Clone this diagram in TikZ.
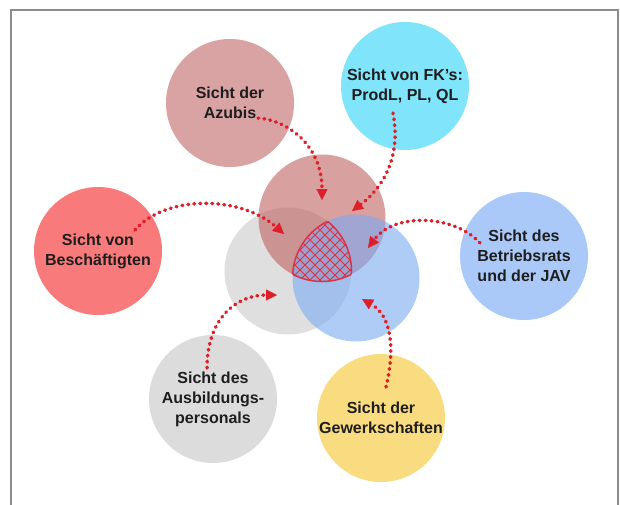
\documentclass[tikz,border=0pt]{standalone}
\usepackage{fontspec}
\setmainfont{Liberation Sans}
\usetikzlibrary{arrows.meta}
\definecolor{cAzubi}{RGB}{218,163,163}
\definecolor{cFK}{RGB}{128,228,250}
\definecolor{cBesch}{RGB}{248,122,122}
\definecolor{cBR}{RGB}{170,200,248}
\definecolor{cAusb}{RGB}{220,220,220}
\definecolor{cGew}{RGB}{250,220,128}
\definecolor{vRed}{RGB}{192,97,97}
\definecolor{vGray}{RGB}{203,203,203}
\definecolor{vBlue}{RGB}{123,170,243}
\definecolor{arr}{RGB}{222,30,40}
\definecolor{hatch}{RGB}{218,50,70}
\definecolor{txt}{RGB}{30,30,30}
\definecolor{frame}{RGB}{140,140,140}
\begin{document}
\begin{tikzpicture}[x=1pt,y=-1pt,
  view/.style={circle, minimum size=128pt, inner sep=0pt, align=center,
    font=\bfseries\fontsize{16}{20}\selectfont, text=txt},
  venn/.style={circle, minimum size=127pt, inner sep=0pt, fill opacity=0.6},
  conn/.style={draw=arr, line width=3.5pt, dash pattern=on 0.8pt off 5.2pt, line cap=round,
    -{Triangle[length=11pt,width=11pt,line width=0.4pt]}},
  hatchline/.style={draw=hatch, line width=0.95pt}]
\useasboundingbox (0,0) rectangle (620,504);
\fill[white] (0,0) rectangle (620,504);
\begin{scope}
\clip (0,0) rectangle (620,504);
\draw[frame, line width=2pt] (10.5,9.5) rectangle (618,540);
\end{scope}

% outer views
\node[view, fill=cAzubi] (azubi) at (230,103) {Sicht der\\Azubis};
\node[view, fill=cFK] (fk) at (405,86) {Sicht von FK's:\\ProdL, PL, QL};
\node[view, fill=cBesch] (besch) at (98,251) {Sicht von\\Besch\"aftigten};
\node[view, fill=cBR] (br) at (524,256) {Sicht des\\Betriebsrats\\und der JAV};
\node[view, fill=cAusb] (ausb) at (213,399) {Sicht des\\Ausbildungs-\\personals};
\node[view, fill=cGew] (gew) at (381,418) {Sicht der\\Gewerkschaften};

% venn circles
\node[venn, fill=vGray] (vg) at (288,271) {};
\node[venn, fill=vRed] (vr) at (322,218) {};
\node[venn, fill=vBlue] (vb) at (356,278) {};

% hatched intersection
\begin{scope}
\clip (vr.center) circle (63.5pt);
\clip (vg.center) circle (63.5pt);
\clip (vb.center) circle (63.5pt);
\foreach \c in {160,170,...,420} {
  \draw[hatchline] (\c,180) -- (\c+130,310);
  \draw[hatchline] (\c+60,180) -- (\c-70,310);
}
\end{scope}
\begin{scope}
\clip (vg.center) circle (63.5pt);
\clip (vb.center) circle (63.5pt);
\draw[hatch, line width=1.5pt] (vr.center) circle (63.5pt);
\end{scope}
\begin{scope}
\clip (vr.center) circle (63.5pt);
\clip (vb.center) circle (63.5pt);
\draw[hatch, line width=1.5pt] (vg.center) circle (63.5pt);
\end{scope}
\begin{scope}
\clip (vr.center) circle (63.5pt);
\clip (vg.center) circle (63.5pt);
\draw[hatch, line width=1.5pt] (vb.center) circle (63.5pt);
\end{scope}

% connector ends
\coordinate (a1) at (258,118);  \coordinate (t1) at (322,200);
\coordinate (a2) at (393,113);  \coordinate (t2) at (352,211);
\coordinate (a3) at (135,230);  \coordinate (t3) at (284,234);
\coordinate (a4) at (480,243);  \coordinate (t4) at (368,248);
\coordinate (a5) at (207,368);  \coordinate (t5) at (277,295);
\coordinate (a6) at (386,387);  \coordinate (t6) at (362,299);

\draw[conn] (a1) .. controls (287,120) and (322,145) .. (t1);
\draw[conn] (a2) .. controls (402,160) and (380,190) .. (t2);
\draw[conn] (a3) .. controls (165,195) and (240,195) .. (t3);
\draw[conn] (a4) .. controls (455,215) and (395,212) .. (t4);
\draw[conn] (a5) .. controls (207,320) and (235,295) .. (t5);
\draw[conn] (a6) .. controls (396,345) and (390,315) .. (t6);
\end{tikzpicture}
\end{document}
